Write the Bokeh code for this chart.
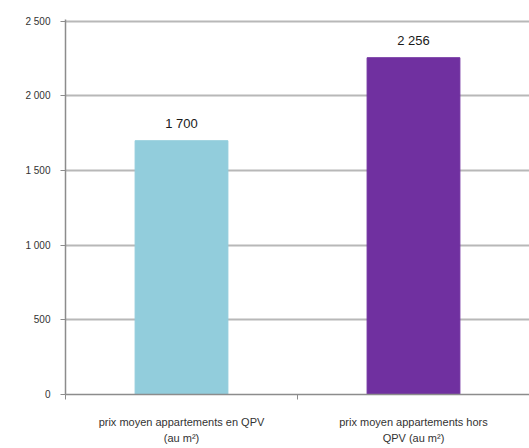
from bokeh.plotting import figure
from bokeh.models import ColumnDataSource, FixedTicker, LinearAxis, Range1d
from bokeh.core.properties import value
from bokeh.embed import file_html
from bokeh.resources import INLINE

# Average apartment price per m², inside vs outside QPV
categories = ["prix moyen appartements en QPV\n(au m²)",
              "prix moyen appartements hors\nQPV (au m²)"]
prices = [1700, 2256]
price_labels = ["1 700", "2 256"]
bar_colors = ["#92CDDC", "#7030A0"]
y_ticks = [0, 500, 1000, 1500, 2000, 2500]
y_tick_labels = ["0", "500", "1 000", "1 500", "2 000", "2 500"]

positions = [i + 0.5 for i in range(len(categories))]
boundaries = list(range(len(categories) + 1))

source = ColumnDataSource(dict(x=positions, top=prices, color=bar_colors,
                               label=price_labels))

p = figure(width=529, height=448, output_backend="svg", toolbar_location=None,
           x_range=Range1d(0, len(categories)), y_range=Range1d(0, 2512),
           min_border_left=65, min_border_right=0, min_border_top=19,
           min_border_bottom=54, x_axis_location=None)
p.outline_line_color = None
p.background_fill_color = "white"
p.border_fill_color = "white"

p.vbar(x="x", top="top", width=0.4, color="color", source=source)
p.text(x="x", y="top", text="label", source=source, text_align="center",
       text_baseline="bottom", y_offset=-10, text_font=value("Liberation Sans"),
       text_font_size="13px", text_color="#1a1a1a")

# y axis
yax = p.yaxis[0]
yax.ticker = FixedTicker(ticks=y_ticks)
yax.major_label_overrides = {t: l for t, l in zip(y_ticks, y_tick_labels)}
yax.axis_line_color = "#8c8c8c"
yax.axis_line_width = 1.5
yax.major_tick_line_color = "#8c8c8c"
yax.major_tick_out = 5
yax.major_tick_in = 0
yax.minor_tick_line_color = None
yax.major_label_text_font = "Liberation Sans"
yax.major_label_text_font_size = "10px"
yax.major_label_text_color = "#333333"
yax.major_label_standoff = 10

# x axis: tick marks at category boundaries, no text
xax = LinearAxis(ticker=FixedTicker(ticks=boundaries))
xax.major_label_overrides = {b: "" for b in boundaries}
xax.major_label_text_font_size = "9px"
xax.axis_line_color = "#8c8c8c"
xax.axis_line_width = 1.5
xax.major_tick_line_color = "#8c8c8c"
xax.major_tick_out = 5
xax.major_tick_in = 0
xax.minor_tick_line_color = None
xax.major_label_standoff = 0
p.add_layout(xax, "below")

# x category labels
xlab = LinearAxis(ticker=FixedTicker(ticks=positions))
xlab.major_label_overrides = {pos: c for pos, c in zip(positions, categories)}
xlab.axis_line_color = None
xlab.major_tick_line_color = None
xlab.minor_tick_line_color = None
xlab.major_label_text_font = "Liberation Sans"
xlab.major_label_text_font_size = "11px"
xlab.major_label_text_line_height = 1.4
xlab.major_label_text_color = "#333333"
xlab.major_label_standoff = 10
p.add_layout(xlab, "below")

p.xgrid.grid_line_color = None
p.ygrid.ticker = FixedTicker(ticks=y_ticks[1:])
p.ygrid.grid_line_color = "#b8b8b8"
p.ygrid.grid_line_width = 2

open("out.html", "w").write(file_html(p, INLINE))
